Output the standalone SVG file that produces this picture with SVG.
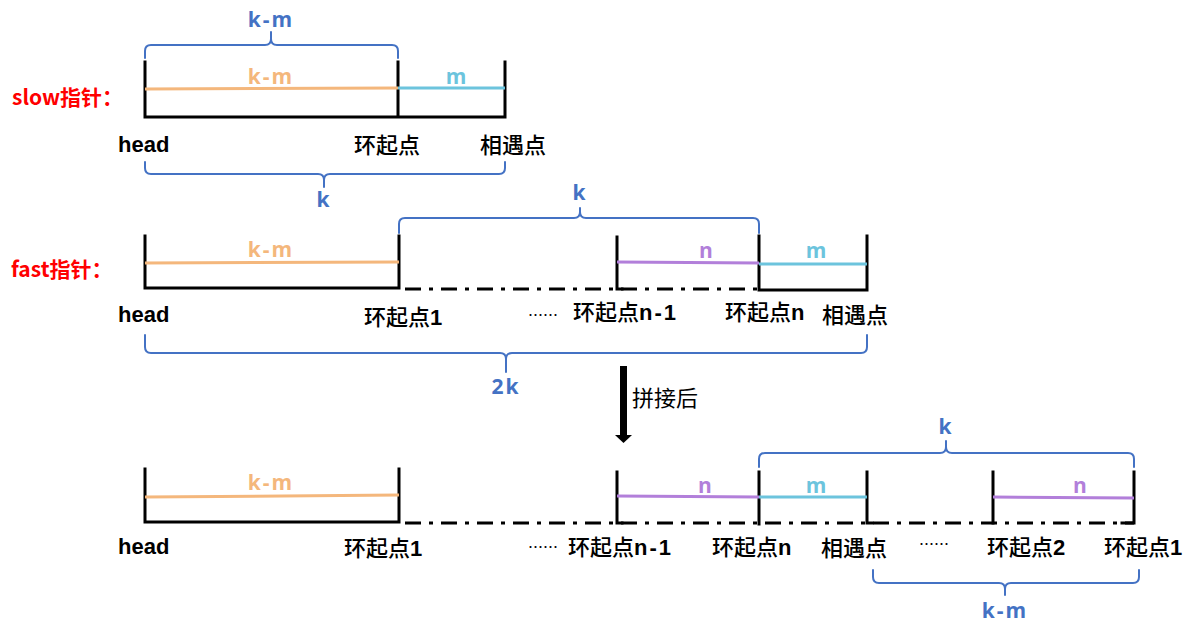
<svg xmlns="http://www.w3.org/2000/svg" width="1194" height="630" viewBox="0 0 1194 630">
<style>
.bg{fill:#ffffff}
.box{fill:none;stroke:#000;stroke-width:3;stroke-linecap:square;stroke-linejoin:miter}
.dd{fill:none;stroke:#000;stroke-width:3;stroke-dasharray:16 8 4 8}
.br{fill:none;stroke:#4472C4;stroke-width:2;stroke-linecap:round;stroke-linejoin:round}
.or{stroke:#F4B77C;stroke-width:3;fill:none}
.cy{stroke:#6CC4DD;stroke-width:3;fill:none}
.pu{stroke:#B27FDA;stroke-width:3;fill:none}
.lb{font-family:"Open Sans","Noto Sans",sans-serif;font-weight:700;font-size:21px;letter-spacing:2px;text-anchor:middle}
.blue{fill:#4472C4}
.orange{fill:#F4B77C}
.cyan{fill:#6CC4DD}
.purple{fill:#B27FDA}
.red{font-family:"Noto Sans CJK SC",sans-serif;font-weight:700;font-size:21px;fill:#FF0000}
.head{font-family:"Liberation Sans",Arial,sans-serif;font-weight:700;font-size:22px;fill:#000}
.pt{font-family:"Noto Sans CJK SC",sans-serif;font-weight:500;font-size:22px;fill:#000}
.pt tspan{font-family:"Liberation Sans","Noto Sans CJK SC",sans-serif;font-weight:700;letter-spacing:2px}
.dots{font-family:"Noto Sans CJK SC",sans-serif;font-size:15px;fill:#000}
.cap{font-family:"Noto Sans CJK SC",sans-serif;font-size:22px;fill:#000}
</style>
<rect class="bg" x="0" y="0" width="1194" height="630"/>

<g id="connectors">
  <path class="br" d="M145 58 V51 Q145 45 151 45 H265 Q271 45 271 39 V32 M271 39 Q271 45 277 45 H392 Q398 45 398 51 V58"/>
  <path class="br" d="M145 162 V168 Q145 174 151 174 H318 Q324 174 324 180 V187 M324 180 Q324 174 330 174 H499 Q505 174 505 168 V162"/>
  <path class="br" d="M399 233 V224 Q399 218 405 218 H574 Q580 218 580 212 V208 M580 212 Q580 218 586 218 H753 Q759 218 759 224 V233"/>
  <path class="br" d="M145 335 V347 Q145 353 151 353 H500 Q506 353 506 359 V372 M506 359 Q506 353 512 353 H861 Q867 353 867 347 V335"/>
  <path class="br" d="M759 467 V459 Q759 453 765 453 H940 Q946 453 946 447 V441 M946 447 Q946 453 952 453 H1128 Q1134 453 1134 459 V467"/>
  <path class="br" d="M873 570 V577 Q873 583 879 583 H999 Q1005 583 1005 589 V595 M1005 589 Q1005 583 1011 583 H1133 Q1139 583 1139 577 V570"/>
  <path class="dd" d="M405 289 H759"/>
  <path class="dd" d="M405 523 H1134"/>
  <rect x="620" y="366" width="7" height="70" fill="#000"/>
  <polygon points="615,435 632,435 623.5,443" fill="#000"/>
</g>

<g id="slow">
  <path class="box" d="M145 62 V117 H505 V62 M398 62 V117"/>
  <path class="or" d="M145 89 L398 88"/>
  <path class="cy" d="M398 88 L505 88"/>
  <text class="lb blue" x="271" y="27">k-m</text>
  <text class="lb orange" x="271" y="84">k-m</text>
  <text class="lb cyan" x="457" y="84">m</text>
  <text class="lb blue" x="324" y="207">k</text>
  <text class="red" x="12" y="105">slow指针：</text>
  <text class="head" x="118" y="152">head</text>
  <text class="pt" x="354" y="153">环起点</text>
  <text class="pt" x="480" y="153">相遇点</text>
</g>

<g id="fast">
  <path class="box" d="M145 236 V288 H399 V236"/>
  <path class="box" d="M617 237 V289 H622"/>
  <path class="box" d="M759 236 V290 H867 V236"/>
  <path class="or" d="M145 263 L399 262"/>
  <path class="pu" d="M617 262 L759 263"/>
  <path class="cy" d="M759 264 L867 264"/>
  <text class="lb blue" x="580" y="200">k</text>
  <text class="lb orange" x="271" y="257">k-m</text>
  <text class="lb purple" x="707" y="258">n</text>
  <text class="lb cyan" x="817" y="258">m</text>
  <text class="lb blue" x="506" y="394">2k</text>
  <text class="red" x="11" y="277">fast指针：</text>
  <text class="head" x="118" y="322">head</text>
  <text class="pt" x="364" y="325">环起点<tspan>1</tspan></text>
  <text class="dots" x="528" y="321">……</text>
  <text class="pt" x="573" y="320">环起点<tspan>n-1</tspan></text>
  <text class="pt" x="725" y="320">环起点<tspan>n</tspan></text>
  <text class="pt" x="822" y="323">相遇点</text>
</g>

<g id="merge-label">
  <text class="cap" x="632" y="406">拼接后</text>
</g>

<g id="merged">
  <path class="box" d="M145 469 V522 H399 V469"/>
  <path class="box" d="M617 472 V523 H622"/>
  <path class="box" d="M759 472 V524"/>
  <path class="box" d="M867 472 V523 H872"/>
  <path class="box" d="M993 472 V523"/>
  <path class="box" d="M1122 523 H1134 V472"/>
  <path class="or" d="M145 497 L399 495"/>
  <path class="pu" d="M617 496 L759 497"/>
  <path class="cy" d="M759 497 L867 497"/>
  <path class="pu" d="M993 497 L1134 498"/>
  <text class="lb blue" x="946" y="434">k</text>
  <text class="lb orange" x="271" y="490">k-m</text>
  <text class="lb purple" x="706" y="493">n</text>
  <text class="lb cyan" x="817" y="493">m</text>
  <text class="lb purple" x="1081" y="493">n</text>
  <text class="lb blue" x="1005" y="618">k-m</text>
  <text class="head" x="118" y="554">head</text>
  <text class="pt" x="344" y="556">环起点<tspan>1</tspan></text>
  <text class="dots" x="528" y="553">……</text>
  <text class="pt" x="568" y="555">环起点<tspan>n-1</tspan></text>
  <text class="pt" x="712" y="555">环起点<tspan>n</tspan></text>
  <text class="pt" x="821" y="556">相遇点</text>
  <text class="dots" x="919" y="550">……</text>
  <text class="pt" x="987" y="555">环起点<tspan>2</tspan></text>
  <text class="pt" x="1104" y="555">环起点<tspan>1</tspan></text>
</g>
</svg>
